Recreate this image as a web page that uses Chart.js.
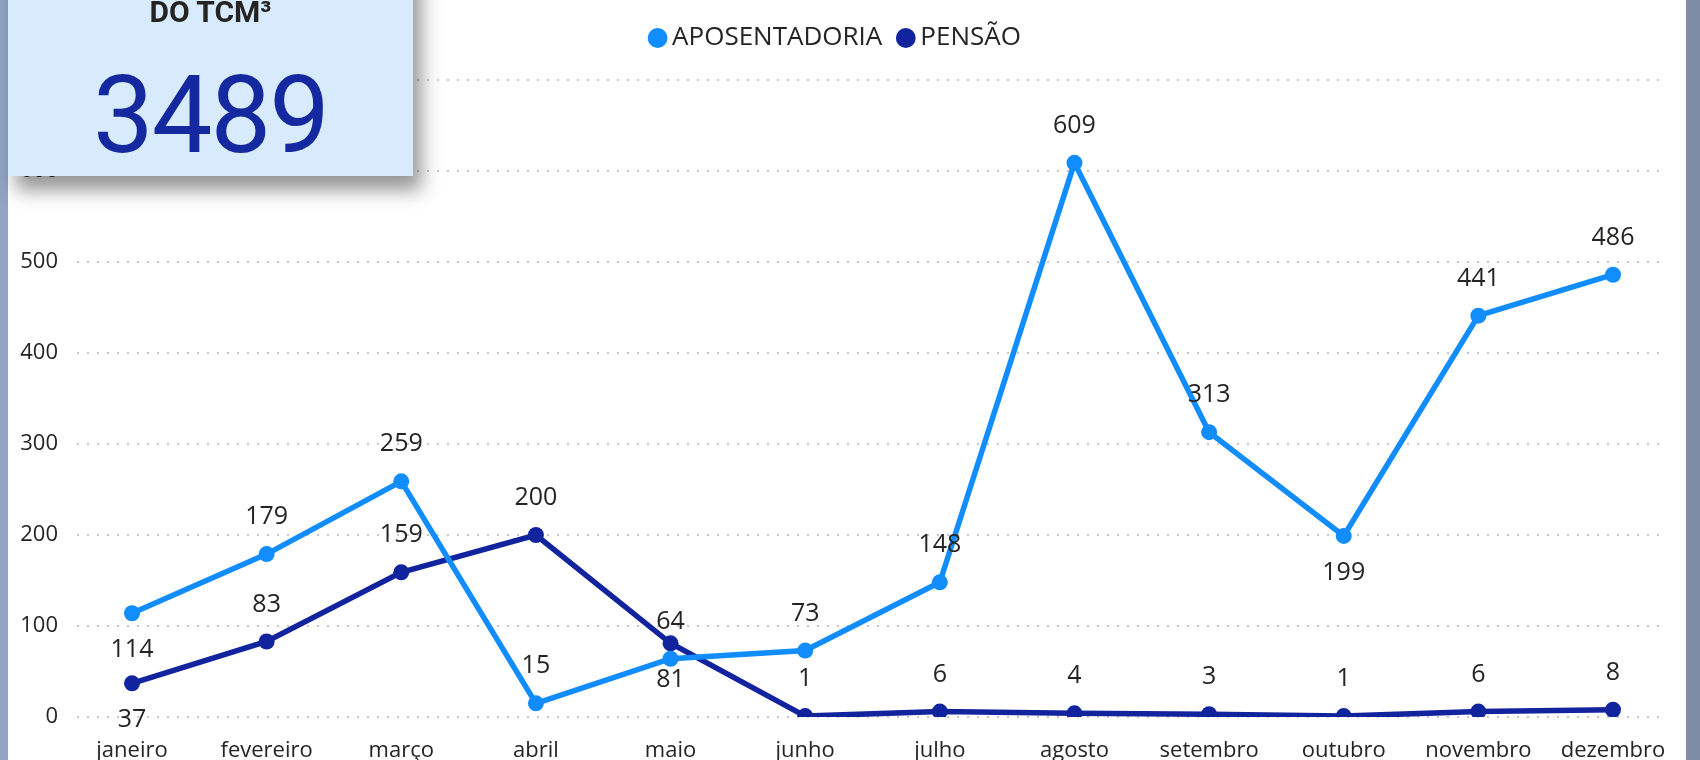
<!DOCTYPE html>
<html lang="pt-BR">
<head>
<meta charset="utf-8">
<title>Aposentadoria e Pensão por mês</title>
<script src="https://cdn.jsdelivr.net/npm/chart.js@4.4.0/dist/chart.umd.min.js"></script>
<style>
  html, body { margin: 0; padding: 0; background: #fff; }
  body { width: 1700px; height: 760px; position: relative; overflow: hidden; font-family: "Open Sans", sans-serif; }
  #wrap { position: absolute; left: 0; top: 0; width: 1700px; height: 760px; }
  .strip-left { position: absolute; left: 0; top: 0; width: 8px; height: 760px; background: #91a5c3; }
  .strip-right { position: absolute; left: 1686px; top: 0; width: 14px; height: 760px; background: #7f8ca6; }
  .card {
    position: absolute; left: 8px; top: -40px; width: 405px; height: 216px;
    background: #d8ebfc; box-shadow: 8px 14px 18px rgba(0,0,0,0.42);
    text-align: center; font-family: Roboto, sans-serif;
  }
  .card .title { position: absolute; left: 0; right: 0; top: 34px; font-size: 30px; font-weight: 700; color: #252423; line-height: 36px; }
  .card .value { position: absolute; left: 0; right: 0; top: 100px; font-size: 108px; color: #1428a0; line-height: 110px; letter-spacing: -2px; }
</style>
</head>
<body>
<div id="wrap"><canvas id="myChart" width="1700" height="760"></canvas></div>
<div class="strip-left"></div>
<div class="strip-right"></div>
<div class="card">
  <div class="title">DO TCM³</div>
  <div class="value">3489</div>
</div>
<script>
const months = ['janeiro', 'fevereiro', 'março', 'abril', 'maio', 'junho',
  'julho', 'agosto', 'setembro', 'outubro', 'novembro', 'dezembro'];
const aposentadoria = [114, 179, 259, 15, 64, 73, 148, 609, 313, 199, 441, 486];
const pensao = [37, 83, 159, 200, 81, 1, 6, 4, 3, 1, 6, 8];
const yTicks = [0, 100, 200, 300, 400, 500, 600, 700];

// which side of the point each value label sits on (-1 above, 1 below)
const aposLabelSide = [1, -1, -1, -1, -1, -1, -1, -1, -1, 1, -1, -1];
const pensLabelSide = [1, -1, -1, -1, 1, -1, -1, -1, -1, -1, -1, -1];

const LIGHT = '#118dff';
const DARK = '#12239e';
const TEXT = '#252423';

// value labels above / below each point
const valueLabels = {
  id: 'valueLabels',
  afterDatasetsDraw(chart) {
    const ctx = chart.ctx;
    ctx.save();
    ctx.font = '25px "Open Sans"';
    ctx.fillStyle = TEXT;
    ctx.textAlign = 'center';
    ctx.textBaseline = 'middle';
    chart.data.datasets.forEach((ds, di) => {
      const meta = chart.getDatasetMeta(di);
      meta.data.forEach((pt, i) => {
        const side = ds.labelSide[i];
        ctx.fillText(String(ds.data[i].y), pt.x, pt.y + side * 37);
      });
    });
    ctx.restore();
  }
};

const ctx = document.getElementById('myChart');
new Chart(ctx, {
  type: 'line',
  data: {
    datasets: [{
      label: 'APOSENTADORIA',
      data: aposentadoria.map((v, i) => ({ x: i, y: v })),
      labelSide: aposLabelSide,
      borderColor: LIGHT,
      backgroundColor: LIGHT,
      borderWidth: 5.5,
      pointRadius: 8,
      pointHoverRadius: 8,
      pointBorderWidth: 0
    }, {
      label: 'PENSÃO',
      data: pensao.map((v, i) => ({ x: i, y: v })),
      labelSide: pensLabelSide,
      borderColor: DARK,
      backgroundColor: DARK,
      borderWidth: 5.5,
      pointRadius: 8,
      pointHoverRadius: 8,
      pointBorderWidth: 0
    }]
  },
  options: {
    responsive: false,
    animation: false,
    layout: { padding: { left: 17, right: 40, top: 3, bottom: 0 } },
    plugins: {
      tooltip: { enabled: false },
      legend: {
        position: 'top',
        align: 'center',
        labels: {
          usePointStyle: true,
          pointStyle: 'circle',
          boxHeight: 14,
          boxWidth: 3,
          padding: 22,
          color: TEXT,
          font: { family: 'Open Sans', size: 26 }
        }
      },
      // empty spacer between the legend and the plot
      subtitle: {
        display: true,
        text: '',
        weight: 500,
        font: { size: 1, lineHeight: 1 },
        padding: { top: 0, bottom: 18 }
      }
    },
    scales: {
      x: {
        type: 'linear',
        min: -0.4085,
        max: 11.349,
        grid: { display: false },
        border: { display: false },
        afterBuildTicks: (axis) => { axis.ticks = months.map((m, i) => ({ value: i })); },
        afterFit: (axis) => { axis.height = 43; },
        ticks: {
          padding: 13,
          maxRotation: 0,
          autoSkip: false,
          color: TEXT,
          font: { family: 'Open Sans', size: 22 },
          callback: (v) => months[v]
        }
      },
      y: {
        min: 0,
        max: 700,
        afterBuildTicks: (axis) => { axis.ticks = yTicks.map((v) => ({ value: v })); },
        afterFit: (axis) => { axis.width = 60; },
        border: { display: false, dash: [2, 8] },
        grid: {
          color: 'rgba(0,0,0,0.22)',
          lineWidth: 2,
          drawTicks: false
        },
        ticks: {
          padding: 19,
          color: TEXT,
          font: { family: 'Open Sans', size: 22 }
        }
      }
    }
  },
  plugins: [valueLabels]
});
</script>
</body>
</html>
